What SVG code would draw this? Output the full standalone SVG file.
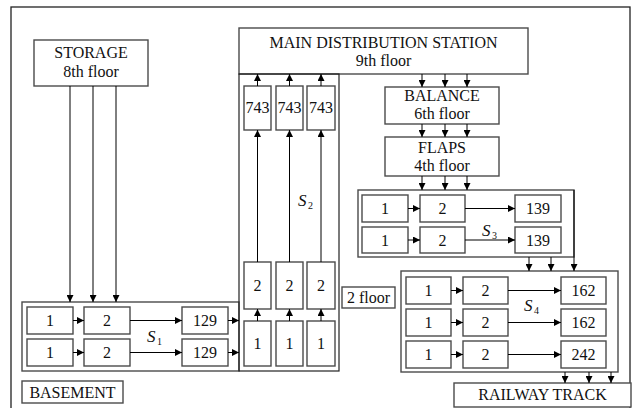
<svg xmlns="http://www.w3.org/2000/svg" width="632" height="408" viewBox="0 0 632 408">
<defs>
<marker id="ah" markerUnits="userSpaceOnUse" markerWidth="7" markerHeight="7" refX="7" refY="3.5" orient="auto">
<path d="M0,0 L7,3.5 L0,7 z" fill="#000"/>
</marker>
<style>
.b{fill:#fff;stroke:#4a4a4a;stroke-width:1.4}
.t{font-family:"Liberation Serif","Times New Roman",serif;font-size:16px;fill:#111;text-anchor:middle}
.s{font-family:"Liberation Serif","Times New Roman",serif;font-size:17px;font-style:italic;fill:#111}
.sub{font-family:"Liberation Serif","Times New Roman",serif;font-size:10px;fill:#111}
.c line{stroke:#000;stroke-width:1;marker-end:url(#ah)}
</style>
</defs>
<rect width="632" height="408" fill="#fff"/>
<rect x="11" y="7" width="619" height="405" fill="none" stroke="#222" stroke-width="1.3"/>

<g id="storage"><rect class="b" x="34" y="40" width="114" height="46"/><text class="t" x="91" y="58">STORAGE</text><text class="t" x="91" y="77">8th floor</text></g>
<g id="main"><rect class="b" x="239" y="28" width="289" height="46"/><text class="t" x="383.5" y="48">MAIN DISTRIBUTION STATION</text><text class="t" x="383.5" y="66">9th floor</text></g>

<g id="s1"><rect class="b" x="22" y="302" width="217" height="69"/>
<rect class="b" x="27" y="307" width="46" height="27"/><text class="t" x="50" y="326">1</text>
<rect class="b" x="84" y="307" width="46" height="27"/><text class="t" x="107" y="326">2</text>
<rect class="b" x="182" y="307" width="46" height="27"/><text class="t" x="205" y="326">129</text>
<rect class="b" x="27" y="339" width="46" height="27"/><text class="t" x="50" y="358">1</text>
<rect class="b" x="84" y="339" width="46" height="27"/><text class="t" x="107" y="358">2</text>
<rect class="b" x="182" y="339" width="46" height="27"/><text class="t" x="205" y="358">129</text>
<text class="s" x="147" y="342">S</text><text class="sub" x="157" y="345">1</text></g>

<g id="s2"><rect x="239" y="74" width="100" height="297" fill="none" stroke="#222" stroke-width="1.2"/>
<rect class="b" x="244" y="86" width="27" height="44"/><text class="t" x="257.5" y="113">743</text>
<rect class="b" x="276" y="86" width="27" height="44"/><text class="t" x="289.5" y="113">743</text>
<rect class="b" x="307" y="86" width="28" height="44"/><text class="t" x="321" y="113">743</text>
<rect class="b" x="244" y="262" width="27" height="47"/><text class="t" x="257.5" y="291">2</text>
<rect class="b" x="276" y="262" width="27" height="47"/><text class="t" x="289.5" y="291">2</text>
<rect class="b" x="307" y="262" width="28" height="47"/><text class="t" x="321" y="291">2</text>
<rect class="b" x="244" y="321" width="27" height="45"/><text class="t" x="257.5" y="349">1</text>
<rect class="b" x="276" y="321" width="27" height="45"/><text class="t" x="289.5" y="349">1</text>
<rect class="b" x="307" y="321" width="28" height="45"/><text class="t" x="321" y="349">1</text>
<text class="s" x="298" y="206">S</text><text class="sub" x="308" y="209">2</text></g>

<g id="balance"><rect class="b" x="385" y="87" width="114" height="37"/><text class="t" x="442" y="101">BALANCE</text><text class="t" x="442" y="119">6th floor</text></g>
<g id="flaps"><rect class="b" x="385" y="137" width="114" height="39"/><text class="t" x="442" y="153">FLAPS</text><text class="t" x="442" y="171">4th floor</text></g>

<g id="s3"><rect class="b" x="358" y="190" width="216" height="67"/>
<rect class="b" x="362" y="195" width="46" height="27"/><text class="t" x="385" y="214">1</text>
<rect class="b" x="420" y="195" width="45" height="27"/><text class="t" x="442.5" y="214">2</text>
<rect class="b" x="515" y="195" width="46" height="27"/><text class="t" x="538" y="214">139</text>
<rect class="b" x="362" y="227" width="46" height="26"/><text class="t" x="385" y="246">1</text>
<rect class="b" x="420" y="227" width="45" height="26"/><text class="t" x="442.5" y="246">2</text>
<rect class="b" x="515" y="227" width="46" height="26"/><text class="t" x="538" y="246">139</text>
<text class="s" x="482" y="236">S</text><text class="sub" x="492" y="239">3</text></g>

<g id="s4"><rect class="b" x="401" y="271" width="217" height="101"/>
<rect class="b" x="406" y="277" width="45" height="27"/><text class="t" x="428.5" y="296">1</text>
<rect class="b" x="463" y="277" width="45" height="27"/><text class="t" x="485.5" y="296">2</text>
<rect class="b" x="561" y="277" width="45" height="27"/><text class="t" x="583.5" y="296">162</text>
<rect class="b" x="406" y="309" width="45" height="27"/><text class="t" x="428.5" y="328">1</text>
<rect class="b" x="463" y="309" width="45" height="27"/><text class="t" x="485.5" y="328">2</text>
<rect class="b" x="561" y="309" width="45" height="27"/><text class="t" x="583.5" y="328">162</text>
<rect class="b" x="406" y="341" width="45" height="27"/><text class="t" x="428.5" y="360">1</text>
<rect class="b" x="463" y="341" width="45" height="27"/><text class="t" x="485.5" y="360">2</text>
<rect class="b" x="561" y="341" width="45" height="27"/><text class="t" x="583.5" y="360">242</text>
<text class="s" x="524" y="311">S</text><text class="sub" x="534" y="314">4</text></g>

<g id="floor2"><rect class="b" x="342" y="287" width="53" height="21"/><text class="t" x="368.5" y="303">2 floor</text></g>
<g id="basement"><rect class="b" x="22" y="381" width="101" height="22"/><text class="t" x="72.5" y="398">BASEMENT</text></g>
<g id="railway"><rect class="b" x="454" y="383" width="177" height="24"/><text class="t" x="542.5" y="400">RAILWAY TRACK</text></g>

<g id="connectors" class="c">
<line x1="70" y1="86" x2="70" y2="302"/><line x1="93" y1="86" x2="93" y2="302"/><line x1="116" y1="86" x2="116" y2="302"/>
<line x1="73" y1="320.5" x2="84" y2="320.5"/><line x1="130" y1="320.5" x2="182" y2="320.5"/><line x1="228" y1="320.5" x2="239" y2="320.5"/>
<line x1="73" y1="352.5" x2="84" y2="352.5"/><line x1="130" y1="352.5" x2="182" y2="352.5"/><line x1="228" y1="352.5" x2="239" y2="352.5"/>
<line x1="257.5" y1="321" x2="257.5" y2="309"/><line x1="289.5" y1="321" x2="289.5" y2="309"/><line x1="321" y1="321" x2="321" y2="309"/>
<line x1="257.5" y1="262" x2="257.5" y2="130"/><line x1="289.5" y1="262" x2="289.5" y2="130"/><line x1="321" y1="262" x2="321" y2="130"/>
<line x1="257.5" y1="86" x2="257.5" y2="74"/><line x1="289.5" y1="86" x2="289.5" y2="74"/><line x1="321" y1="86" x2="321" y2="74"/>
<line x1="422" y1="74" x2="422" y2="87"/><line x1="445" y1="74" x2="445" y2="87"/><line x1="467" y1="74" x2="467" y2="87"/>
<line x1="422" y1="124" x2="422" y2="137"/><line x1="445" y1="124" x2="445" y2="137"/><line x1="467" y1="124" x2="467" y2="137"/>
<line x1="422" y1="176" x2="422" y2="190"/><line x1="445" y1="176" x2="445" y2="190"/><line x1="467" y1="176" x2="467" y2="190"/>
<line x1="408" y1="208.5" x2="420" y2="208.5"/><line x1="465" y1="208.5" x2="515" y2="208.5"/>
<line x1="408" y1="240" x2="420" y2="240"/><line x1="465" y1="240" x2="515" y2="240"/>
<line x1="529" y1="257" x2="529" y2="271"/><line x1="551" y1="257" x2="551" y2="271"/><line x1="574" y1="190" x2="574" y2="271"/>
<line x1="451" y1="290.5" x2="463" y2="290.5"/><line x1="508" y1="290.5" x2="561" y2="290.5"/>
<line x1="451" y1="322.5" x2="463" y2="322.5"/><line x1="508" y1="322.5" x2="561" y2="322.5"/>
<line x1="451" y1="354.5" x2="463" y2="354.5"/><line x1="508" y1="354.5" x2="561" y2="354.5"/>
<line x1="565" y1="372" x2="565" y2="383"/><line x1="589" y1="372" x2="589" y2="383"/><line x1="611" y1="372" x2="611" y2="383"/>
</g>
</svg>
